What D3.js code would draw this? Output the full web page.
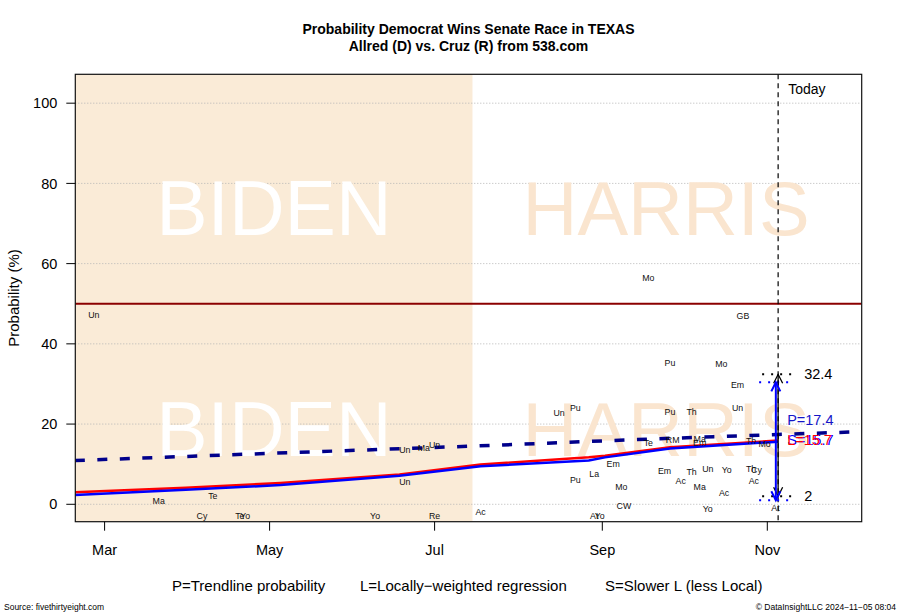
<!DOCTYPE html>
<html><head><meta charset="utf-8">
<script src="https://cdn.jsdelivr.net/npm/d3@7"></script>
<style>html,body{margin:0;padding:0;background:#fff}svg{display:block}text{font-family:"Liberation Sans",Arial,Helvetica,sans-serif}</style>
</head><body><svg id="c" width="900" height="615"></svg>
<script>
// ---------- data ----------
const yTicks = [0, 20, 40, 60, 80, 100];
const xTickDates = ["2024-03-01", "2024-05-01", "2024-07-01", "2024-09-01", "2024-11-01"];
const xTickLabels = ["Mar", "May", "Jul", "Sep", "Nov"];
const bidenEnd = "2024-07-15";
const todayDate = "2024-11-05";

// trendline probability P (dashed)
const pDates = ["2024-02-19", "2024-05-01", "2024-07-15", "2024-09-20", "2024-11-05", "2024-12-06"];
const pValues = [10.9, 12.7, 14.5, 16.3, 17.4, 18.1];
// locally-weighted regression L (red)
const lDates = ["2024-02-19", "2024-03-31", "2024-05-05", "2024-06-18", "2024-07-18", "2024-08-27", "2024-09-02", "2024-09-26", "2024-11-05"];
const lValues = [3.0, 4.1, 5.3, 7.4, 9.9, 11.7, 12.1, 14.2, 15.9];
// slower L (blue)
const sDates = ["2024-02-19", "2024-03-31", "2024-05-05", "2024-06-18", "2024-07-18", "2024-08-27", "2024-09-02", "2024-09-26", "2024-11-05"];
const sValues = [2.3, 3.6, 4.8, 7.1, 9.5, 10.9, 11.7, 13.9, 15.6];

// poll labels
const pollLabels = ["Un","Ma","Te","Cy","Te","Yo","Yo","Re","Ac","Un","Ma","Un","Un",
  "Mo","GB","Pu","Mo","Em","Un","Un","Pu","Pu","Th","Te","RM","Ma","Em","Th","Mo",
  "Em","La","Pu","Mo","CW","At","Yo","Em","Th","Un","Yo","Ac","Ma","Ac","Yo","Th","Cy","Ac","At"];
const pollDates = ["2024-02-26","2024-03-21","2024-04-10","2024-04-06","2024-04-20","2024-04-22","2024-06-09","2024-07-01","2024-07-18","2024-06-20","2024-06-27","2024-07-01","2024-06-20",
  "2024-09-18","2024-10-23","2024-09-26","2024-10-15","2024-10-21","2024-10-21","2024-08-16","2024-08-22","2024-09-26","2024-10-04","2024-09-18","2024-09-27","2024-10-07","2024-10-07","2024-10-26","2024-10-31",
  "2024-09-05","2024-08-29","2024-08-22","2024-09-08","2024-09-09","2024-08-29","2024-08-31","2024-09-24","2024-10-04","2024-10-10","2024-10-17","2024-09-30","2024-10-07","2024-10-16","2024-10-10","2024-10-26","2024-10-28","2024-10-27","2024-11-04"];
const pollValues = [47.1, 0.9, 2.1, -2.9, -2.9, -2.9, -2.9, -2.9, -2.0, 13.5, 14.0, 14.7, 5.5,
  56.5, 47.0, 35.2, 34.9, 29.7, 24.1, 22.8, 24.1, 23.1, 23.1, 15.2, 16.0, 16.2, 15.3, 15.7, 15.0,
  10.0, 7.6, 6.1, 4.4, -0.4, -2.8, -2.8, 8.4, 8.0, 8.8, 8.6, 5.8, 4.2, 2.7, -1.2, 8.8, 8.6, 5.8, -1.0];

const rangeBlack = [2, 32.4];
const rangeBlue = [1.0, 30.4];
const endLabels = ["P=17.4", "S=15.7", "L=15.7"];
const endLabelValues = [20.9, 16.0, 16.0];
const eraNames = ["BIDEN", "HARRIS"];
const eraTextValues = [74, 19];
const fiftyLine = 50;

// ---------- scales ----------
const pd = s => new Date(s + "T00:00:00Z");
const svg = d3.select("#c");
const PL = 75.3, PR = 861.7, PT = 74.3, PB = 521.7;
const x = d3.scaleUtc().domain([Date.UTC(2024,1,19,4), Date.UTC(2024,11,5,21,30)]).range([PL, PR]);
const y = d3.scaleLinear().domain([-4.34, 107.2]).range([PB, PT]);

svg.append("rect").attr("width", 900).attr("height", 615).attr("fill", "#fff");
svg.append("defs").append("clipPath").attr("id", "clip")
  .append("rect").attr("x", PL).attr("y", PT).attr("width", PR - PL).attr("height", PB - PT);
const g = svg.append("g").attr("clip-path", "url(#clip)");

// biden era shading
g.append("rect").attr("x", PL).attr("y", PT)
  .attr("width", x(pd(bidenEnd)) - PL).attr("height", PB - PT).attr("fill", "#FAEBD7");

// grid
g.selectAll(".grid").data(yTicks).join("line")
  .attr("x1", PL).attr("x2", PR).attr("y1", d => y(d)).attr("y2", d => y(d))
  .attr("stroke", "#b5b5b5").attr("stroke-width", 1).attr("stroke-dasharray", "1,2");

// era watermark text
const bidenMid = (PL + x(pd(bidenEnd))) / 2;
const harrisMid = (x(pd(bidenEnd)) + PR) / 2;
eraTextValues.forEach(v => {
  g.append("text").attr("x", bidenMid).attr("y", y(v) + 28).attr("text-anchor", "middle")
    .attr("font-size", 77).attr("fill", "#ffffff").text(eraNames[0]);
  g.append("text").attr("x", harrisMid - 1).attr("y", y(v) + 28).attr("text-anchor", "middle")
    .attr("font-size", 76).attr("fill", "#FAE5CF").text(eraNames[1]);
});

// 50% line
g.append("line").attr("x1", PL).attr("x2", PR).attr("y1", y(fiftyLine)).attr("y2", y(fiftyLine))
  .attr("stroke", "#8B0000").attr("stroke-width", 2);

// lines
const line = d3.line().x(d => x(d[0])).y(d => y(d[1]));
g.append("path").datum(pDates.map((d, i) => [pd(d), pValues[i]]))
  .attr("d", line).attr("fill", "none").attr("stroke", "#00008B").attr("stroke-width", 3.5)
  .attr("stroke-dasharray", "10,12.5");
g.append("path").datum(lDates.map((d, i) => [pd(d), lValues[i]]))
  .attr("d", line).attr("fill", "none").attr("stroke", "#FF0000").attr("stroke-width", 2.5);
g.append("path").datum(sDates.map((d, i) => [pd(d), sValues[i]]))
  .attr("d", line).attr("fill", "none").attr("stroke", "#0000FF").attr("stroke-width", 2.5);

// poll labels
g.selectAll(".poll").data(pollLabels).join("text")
  .attr("x", (d, i) => x(pd(pollDates[i]))).attr("y", (d, i) => y(pollValues[i]) + 3)
  .attr("text-anchor", "middle").attr("font-size", 8.8).attr("fill", "#111").text(d => d);

// today line
const tx = x(pd(todayDate));
svg.append("line").attr("x1", tx).attr("x2", tx).attr("y1", PT).attr("y2", PB)
  .attr("stroke", "#000").attr("stroke-width", 1.2).attr("stroke-dasharray", "5,4");
svg.append("text").attr("x", tx + 10).attr("y", 94).attr("font-size", 14).text("Today");

// dotted range markers
function dots(v, color, x0, x1) {
  svg.append("line").attr("x1", x0).attr("x2", x1).attr("y1", y(v)).attr("y2", y(v))
    .attr("stroke", color).attr("stroke-width", 2).attr("stroke-dasharray", "2,7");
}
dots(rangeBlack[1], "#000", tx - 16, tx + 20);
dots(rangeBlack[0], "#000", tx - 16, tx + 20);
dots(rangeBlue[1], "#0000FF", tx - 19, tx + 17);
dots(rangeBlue[0], "#0000FF", tx - 19, tx + 17);

function arrow(xx, v0, v1, color, w) {
  const y0 = y(v0), y1 = y(v1);
  svg.append("line").attr("x1", xx).attr("x2", xx).attr("y1", y0).attr("y2", y1)
    .attr("stroke", color).attr("stroke-width", w);
  const h = 9, hw = 4.5;
  svg.append("path").attr("d", `M${xx - hw},${y1 + h}L${xx},${y1}L${xx + hw},${y1 + h}M${xx - hw},${y0 - h}L${xx},${y0}L${xx + hw},${y0 - h}`)
    .attr("fill", "none").attr("stroke", color).attr("stroke-width", w);
}
arrow(tx, rangeBlack[0], rangeBlack[1], "#000", 1.3);
arrow(tx - 2.3, rangeBlue[0], rangeBlue[1], "#0000FF", 2);

svg.append("text").attr("x", tx + 26).attr("y", y(rangeBlack[1]) + 5).attr("font-size", 14.5).text(rangeBlack[1]);
svg.append("text").attr("x", tx + 26).attr("y", y(rangeBlack[0]) + 5).attr("font-size", 14.5).text(rangeBlack[0]);

// end labels
const endColors = ["#1515C8", "#0000FF", "#FF0000"];
endLabels.forEach((t, i) => {
  svg.append("text").attr("x", tx + 9).attr("y", y(endLabelValues[i]) + 5).attr("font-size", 14.5)
    .attr("fill", endColors[i]).text(t);
});

// box
svg.append("rect").attr("x", PL).attr("y", PT).attr("width", PR - PL).attr("height", PB - PT)
  .attr("fill", "none").attr("stroke", "#111").attr("stroke-width", 1.2);

// y axis
svg.selectAll(".yt").data(yTicks).join("line")
  .attr("x1", PL - 9).attr("x2", PL).attr("y1", d => y(d)).attr("y2", d => y(d)).attr("stroke", "#000");
svg.selectAll(".yl").data(yTicks).join("text")
  .attr("x", PL - 18).attr("y", d => y(d) + 5.2).attr("text-anchor", "end").attr("font-size", 14.5).text(d => d);
svg.append("text").attr("transform", `translate(18.5,${(PT + PB) / 2}) rotate(-90)`)
  .attr("text-anchor", "middle").attr("font-size", 15).text("Probability (%)");

// x axis
svg.selectAll(".xt").data(xTickDates).join("line")
  .attr("x1", d => x(pd(d))).attr("x2", d => x(pd(d))).attr("y1", PB).attr("y2", PB + 9).attr("stroke", "#000");
svg.selectAll(".xl").data(xTickLabels).join("text")
  .attr("x", (d, i) => x(pd(xTickDates[i]))).attr("y", 554.5).attr("text-anchor", "middle")
  .attr("font-size", 14.5).text(d => d);

// titles
svg.append("text").attr("x", (PL + PR) / 2).attr("y", 34).attr("text-anchor", "middle")
  .attr("font-size", 14).attr("font-weight", "bold").text("Probability Democrat Wins Senate Race in TEXAS");
svg.append("text").attr("x", (PL + PR) / 2).attr("y", 51).attr("text-anchor", "middle")
  .attr("font-size", 14).attr("font-weight", "bold").text("Allred (D) vs. Cruz (R) from 538.com");

// footer legend
const legendTexts = ["P=Trendline probability", "L=Locally\u2212weighted regression", "S=Slower L (less Local)"];
const legendX = [172, 360, 605];
legendTexts.forEach((t, i) => svg.append("text").attr("x", legendX[i]).attr("y", 591).attr("font-size", 15).text(t));
svg.append("text").attr("x", 4).attr("y", 610).attr("font-size", 8.5).text("Source: fivethirtyeight.com");
svg.append("text").attr("x", 896).attr("y", 610).attr("text-anchor", "end").attr("font-size", 8.5)
  .text("\u00A9 DataInsightLLC  2024\u221211\u221205 08:04");
</script></body></html>
